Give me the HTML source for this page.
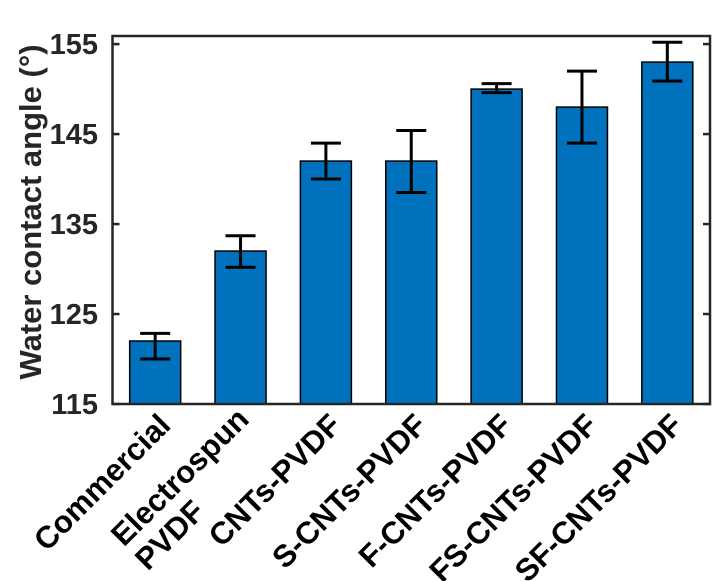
<!DOCTYPE html>
<html><head><meta charset="utf-8"><style>
html,body{margin:0;padding:0;background:#fff;}
svg{display:block;font-family:"Liberation Sans",Arial,sans-serif;font-weight:bold;}
</style></head><body>
<svg id="chart" width="726" height="581" viewBox="0 0 726 581" xmlns="http://www.w3.org/2000/svg">
<g id="bars"></g>
<g id="errs"></g>
<g id="axes"></g>
<g id="ylabels"></g>
<g id="xlabels"></g>
<text transform="translate(41,212) rotate(-90)" text-anchor="middle" font-size="31" fill="#262626">Water contact angle (°)</text>
</svg>
<script>
const categories = ["Commercial", "Electrospun\nPVDF", "CNTs-PVDF", "S-CNTs-PVDF", "F-CNTs-PVDF", "FS-CNTs-PVDF", "SF-CNTs-PVDF"];
const values = [122, 132, 142, 142, 150, 148, 153];
const errUpper = [122.85, 133.7, 144.0, 145.4, 150.6, 152.0, 155.2];
const errLower = [120.0, 130.2, 140.0, 138.5, 149.6, 144.0, 150.9];
const yTicks = [115, 125, 135, 145, 155];

const NS = "http://www.w3.org/2000/svg";
const L = 112.5, R = 710, T = 36, B = 404;
const yMin = 115, yMax = 155.9;
function y(v){ return B - (v - yMin) / (yMax - yMin) * (B - T); }
const step = (R - L) / categories.length;
function x(i){ return L + step * (i + 0.5); }
function mk(tag, attrs, parent){
  const e = document.createElementNS(NS, tag);
  for (const k in attrs) e.setAttribute(k, attrs[k]);
  parent.appendChild(e); return e;
}
const gb = document.getElementById('bars'), ge = document.getElementById('errs'),
      ga = document.getElementById('axes'), gy = document.getElementById('ylabels'),
      gx = document.getElementById('xlabels');
const bw = 51;
values.forEach((v, i) => {
  const r = mk('rect', {x: x(i) - bw/2, y: y(v), width: bw, height: B - y(v), fill: '#0072BD', stroke: '#000', 'stroke-width': 1.5}, gb);
  
  
  const g = mk('g', {stroke: '#000', 'stroke-width': 3}, ge);
  
  
  mk('line', {x1: x(i), x2: x(i), y1: y(errUpper[i]), y2: y(errLower[i])}, g);
  mk('line', {x1: x(i) - 15, x2: x(i) + 15, y1: y(errUpper[i]), y2: y(errUpper[i])}, g);
  mk('line', {x1: x(i) - 15, x2: x(i) + 15, y1: y(errLower[i]), y2: y(errLower[i])}, g);
});
const box = mk('rect', {x: L, y: T, width: R - L, height: B - T, fill: 'none', stroke: '#262626', 'stroke-width': 2.5}, ga);


yTicks.forEach(t => {
  mk('line', {x1: L, x2: L + 7, y1: y(t), y2: y(t), stroke: '#262626', 'stroke-width': 2.5}, ga);
  mk('line', {x1: R, x2: R - 7, y1: y(t), y2: y(t), stroke: '#262626', 'stroke-width': 2.5}, ga);
  const tx = mk('text', {x: 98, y: y(t) + 10, 'text-anchor': 'end', 'font-size': 29, fill: '#262626'}, gy);
  tx.textContent = t;
  
  
});
categories.forEach((c, i) => {
  const lines = c.split('\n');
  const multi = lines.length > 1;
  const tx0 = x(i) + (multi ? 10 : 17), ty0 = multi ? 421 : 427;
  const t = mk('text', {transform: 'translate(' + tx0 + ',' + ty0 + ') rotate(-45)', 'font-size': 31, fill: '#000'}, gx);
  
  
  if (!multi) {
    t.setAttribute('text-anchor', 'end');
    t.textContent = c;
  } else {
    const spans = lines.map((ln, k) => {
      const s = mk('tspan', {x: 0, dy: k === 0 ? 0 : 34}, t);
      s.textContent = ln; return s;
    });
    const w = spans[0].getComputedTextLength();
    spans.forEach(s => s.setAttribute('x', -w));
  }
});
</script>
</body></html>
